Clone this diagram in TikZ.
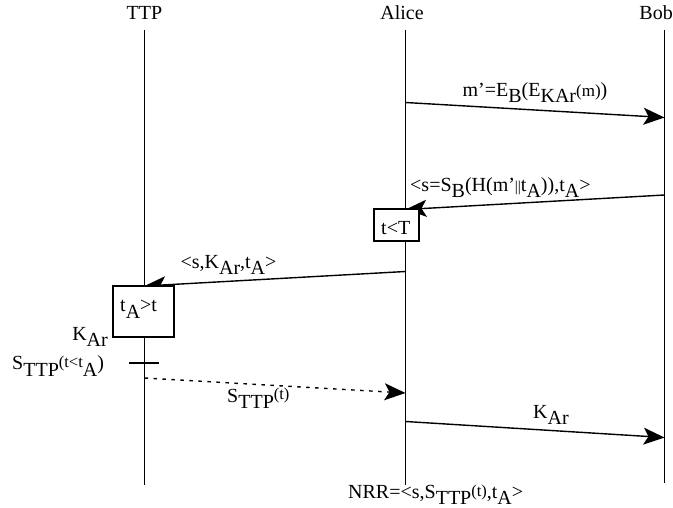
\documentclass[tikz,border=0pt]{standalone}
\usepackage{fontspec}
\setmainfont{Liberation Serif}
\usetikzlibrary{arrows.meta}
\newcommand\dn[1]{\raisebox{-6pt}{#1}}
\newcommand\sml[1]{{\fontsize{17}{17}\selectfont #1}}
\newcommand\smup[1]{\raisebox{2pt}{\fontsize{16.5}{17}\selectfont #1}}
\begin{document}
\begin{tikzpicture}[x=1pt,y=-1pt,
  every node/.style={font=\fontsize{20}{24}\selectfont, inner sep=0pt},
  life/.style={line width=1.1pt},
  msg/.style={line width=1.4pt, -{Stealth[length=21pt,width=17pt,inset=5pt]}},
  dotmsg/.style={msg, dash pattern=on 3.5pt off 5.5pt},
  tickln/.style={line width=1.1pt},
  cbox/.style={draw, line width=1.1pt, fill=white},
  lbl/.style={anchor=base west},
  lblc/.style={anchor=base},
]
\useasboundingbox (0,0) rectangle (673,508);
% titles
\node[lblc] (tTTP) at (144.5,20) {TTP};
\node[lblc] (tAlice) at (402,20) {Alice};
\node[anchor=base east] (tBob) at (673,20) {Bob};
% lifelines
\coordinate (T0) at (144.5,30); \coordinate (T1) at (144.5,485);
\coordinate (A0) at (405.5,30);   \coordinate (A1) at (405.5,485);
\coordinate (B0) at (664.5,30); \coordinate (B1) at (664.5,483);
\draw[life] (T0) -- (T1);
\draw[life] (A0) -- (A1);
\draw[life] (B0) -- (B1);
% message points
\coordinate (a1) at (405.5,102.5);  \coordinate (b1) at (664.5,117.5);
\coordinate (b2) at (664.5,195);  \coordinate (a2) at (405.5,209.5);
\coordinate (a3) at (405.5,271.5);  \coordinate (t3) at (144.5,286);
\coordinate (t4) at (144.5,378);  \coordinate (a4) at (405.5,393);
\coordinate (a5) at (405.5,421.5);  \coordinate (b5) at (664.5,437.5);
\coordinate (k0) at (129,363);    \coordinate (k1) at (159,363);
\draw[msg] (a1) -- (b1);
\draw[msg] (b2) -- (a2);
\draw[msg] (a3) -- (t3);
\draw[dotmsg] (t4) -- (a4);
\draw[msg] (a5) -- (b5);
\draw[tickln] (k0) -- (k1);
% boxes
\node[cbox, minimum width=61pt, minimum height=51pt] (bxT) at (143.5,311.5) {};
\node[lbl] (txT) at (120,312) {t\dn{A}>t};
\node[cbox, minimum width=45pt, minimum height=32pt] (bxA) at (396.5,225) {};
\node[lbl] (txA) at (381,235) {t<T};
% labels
\node[lblc] (l1) at (535,97) {m’=E\dn{B}(E\dn{KAr}\sml{(m)})};
\node[lbl] (l2) at (410,192) {<s=S\dn{B}(H(m’{\fontsize{15}{15}\selectfont ||}t\dn{A})),t\dn{A}>};
\node[lblc] (l3) at (228.5,269) {<s,K\dn{Ar},t\dn{A}>};
\node[lbl] (l4) at (227,402) {S\dn{TTP}\smup{(t)}};
\node[lbl] (l5) at (533,418) {K\dn{Ar}};
\node[anchor=base east] (l6) at (108,340) {K\dn{Ar}};
\node[lbl] (l7) at (12,370) {S\dn{TTP}\smup{(t<t}\dn{A})};
\node[lbl] (l8) at (348,498) {NRR=<s,S\dn{TTP}\smup{(t)},t\dn{A}>};
\end{tikzpicture}
\end{document}
